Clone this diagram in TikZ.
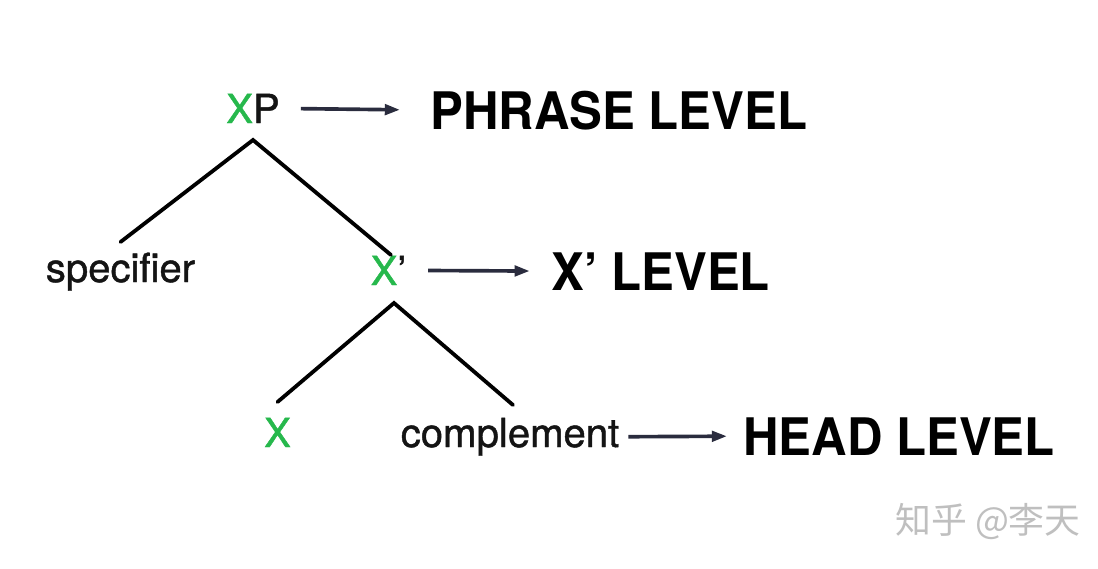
\documentclass[tikz,border=0pt]{standalone}
\usepackage{fontspec}
\setmainfont{TeX Gyre Heros}
\newfontfamily\treefont[FakeBold=1.1]{TeX Gyre Heros}
\newfontfamily\cjkfont{Noto Sans CJK SC}
\usepackage{graphicx}
\usepackage{xcolor}
\definecolor{xgreen}{RGB}{38,184,76}
\definecolor{arrowblue}{RGB}{42,44,62}
\usepackage{tikz}
\usetikzlibrary{arrows.meta}
\usetikzlibrary{positioning}
\tikzset{
tree_word/.style={inner sep=0pt, anchor=base, text=black!92, font=\treefont\fontsize{28.5}{30}\selectfont},
level_label/.style={inner sep=0pt, anchor=base west, text=black, font=\fontsize{36.8}{40}\selectfont\bfseries},
tree_edge/.style={line width=2.7pt, line cap=round, color=black},
level_arrow/.style={-{Triangle[length=0.38cm, width=0.26cm]}, line width=2.6pt, color=arrowblue},
watermark/.style={inner sep=0pt, anchor=base west, text=black!25, font=\cjkfont\fontsize{25.5}{27}\selectfont}
}
\newcommand{\lvl}[1]{\scalebox{0.95}[1]{#1}}

\begin{document}
\begin{tikzpicture}[x=0.025cm, y=-0.025cm]
    \fill[white] (0,0) rectangle (1098,568);
    \useasboundingbox (0,0) rectangle (1098,568);
    % tree
    \node[tree_word] (xp) at (253,123) {{\color{xgreen}X}P};
    \node[tree_word] (spec) at (120.5,282) {specifier};
    \node[tree_word] (x_bar) at (388.5,285) {{\color{xgreen}X}’};
    \node[tree_word] (x_head) at (277.5,447) {\color{xgreen}X};
    \node[tree_word] (comp) at (510,447) {complement};
    \draw[tree_edge] ([shift={(0,-40)}]spec.base) -- ([shift={(0,17)}]xp.base) -- ([shift={(2.5,-30)}]x_bar.base);
    \draw[tree_edge] ([shift={(0,-45)}]x_head.base) -- ([shift={(5.5,18)}]x_bar.base) -- ([shift={(3,-42)}]comp.base);
    % levels
    \node[level_label] (phrase_lvl) at (430,129) {\lvl{PHRASE LEVEL}};
    \node[level_label] (bar_lvl) at (551,290) {\lvl{X’ LEVEL}};
    \node[level_label] (head_lvl) at (743,455) {\lvl{HEAD LEVEL}};
    \draw[level_arrow, shorten <=0.52cm, shorten >=0.75cm] (xp.east) -- (phrase_lvl.west);
    \draw[level_arrow, shorten <=0.54cm, shorten >=0.53cm] (x_bar.east) -- (bar_lvl.west);
    \draw[level_arrow, shorten <=0.22cm, shorten >=0.4cm] (comp.east) -- (head_lvl.west);
    \node[watermark] (mark) at (895,533) {知乎 @李天};
\end{tikzpicture}
\end{document}
